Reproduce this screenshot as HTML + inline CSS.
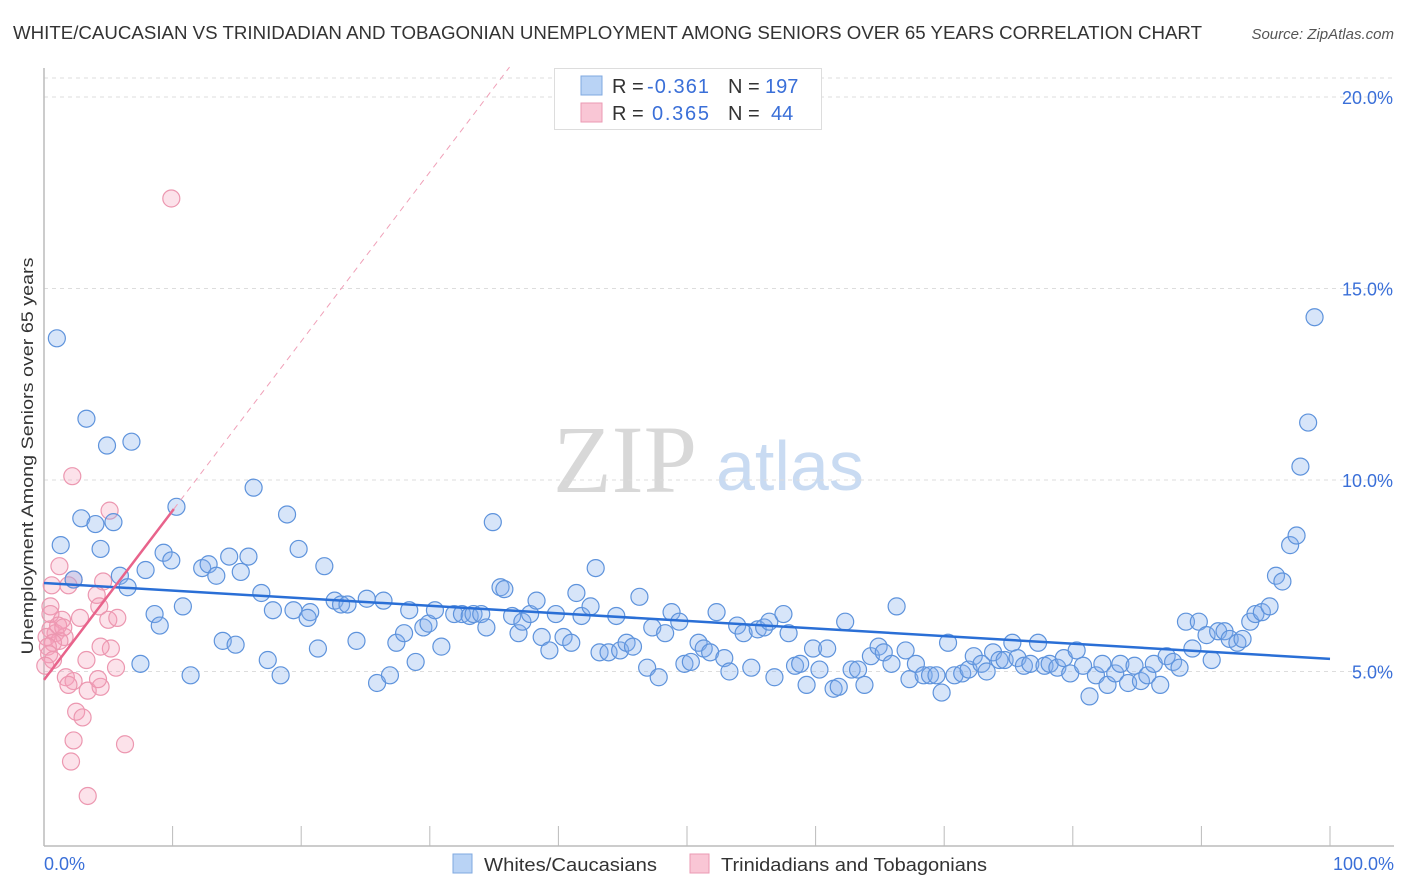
<!DOCTYPE html>
<html><head><meta charset="utf-8"><style>
body{margin:0;background:#fff;width:1406px;height:892px;overflow:hidden;font-family:"Liberation Sans",sans-serif}
svg{position:absolute;left:0;top:0}
</style></head><body>
<svg id="chart" width="1406" height="892">
<text x="13" y="39" font-size="18" fill="#333" textLength="1189" lengthAdjust="spacingAndGlyphs">WHITE/CAUCASIAN VS TRINIDADIAN AND TOBAGONIAN UNEMPLOYMENT AMONG SENIORS OVER 65 YEARS CORRELATION CHART</text>
<text x="1394" y="39" font-size="15" fill="#555" font-style="italic" text-anchor="end">Source: ZipAtlas.com</text>
<g>
<text x="553" y="492" font-family="Liberation Serif, serif" font-size="96" fill="#d8d8d8">ZIP</text>
<text x="716" y="490" font-size="70" fill="#c9dbf2">atlas</text>
</g>
<g id="grid"></g>
<line x1="44" y1="68" x2="44" y2="846" stroke="#bbb" stroke-width="1.5"/>
<line x1="44" y1="846" x2="1394" y2="846" stroke="#bbb" stroke-width="1.5"/>
<g id="xticks"></g>
<g id="ylabels"></g>
<text x="44" y="870" font-size="18" fill="#3a6fd8">0.0%</text>
<text x="1394" y="870" font-size="18" fill="#3a6fd8" text-anchor="end">100.0%</text>
<text transform="translate(33,456) rotate(-90)" font-size="17" fill="#333" text-anchor="middle" textLength="397" lengthAdjust="spacingAndGlyphs">Unemployment Among Seniors over 65 years</text>
<g id="pink"></g>
<g id="blue"></g>
<g id="trends"></g>
<g>
<rect x="554.5" y="68.5" width="267" height="61" fill="#fff" stroke="#ddd"/>
<rect x="581" y="76" width="21" height="19" fill="#b9d3f5" stroke="#7fa8e0"/>
<rect x="581" y="103" width="21" height="19" fill="#f9c6d5" stroke="#eb9ab3"/>
<text y="93" font-size="20"><tspan x="612" fill="#333">R = </tspan><tspan x="647" fill="#3a6fd8" textLength="62">-0.361</tspan><tspan x="728" fill="#333">N = </tspan><tspan x="765" fill="#3a6fd8">197</tspan></text>
<text y="120" font-size="20"><tspan x="612" fill="#333">R = </tspan><tspan x="652" fill="#3a6fd8" textLength="57">0.365</tspan><tspan x="728" fill="#333">N = </tspan><tspan x="771" fill="#3a6fd8">44</tspan></text>
</g>
<g>
<rect x="453" y="854" width="19" height="19" fill="#b9d3f5" stroke="#7fa8e0"/>
<text x="484" y="871" font-size="18" fill="#333" textLength="173" lengthAdjust="spacingAndGlyphs">Whites/Caucasians</text>
<rect x="690" y="854" width="19" height="19" fill="#f9c6d5" stroke="#eb9ab3"/>
<text x="721" y="871" font-size="18" fill="#333" textLength="266" lengthAdjust="spacingAndGlyphs">Trinidadians and Tobagonians</text>
</g>
</svg>
<script>
const yTicks=[5,10,15,20];
const yTickLabels=["5.0%","10.0%","15.0%","20.0%"];
const blueX=[1.0,3.3,4.9,6.8,1.3,2.9,4.0,5.4,4.4,2.3,5.9,6.5,7.5,9.3,9.9,7.9,10.3,8.6,9.0,10.8,11.4,12.3,12.8,13.4,14.4,15.9,15.3,13.9,14.9,16.3,16.9,17.8,18.9,19.8,19.4,20.7,20.5,21.8,17.4,18.4,21.3,22.6,23.1,23.6,24.3,25.1,25.9,26.9,26.4,27.4,28.0,28.4,28.9,29.5,29.9,30.4,30.9,31.9,32.5,33.1,33.4,34.0,34.4,34.9,35.5,35.8,36.4,36.9,37.2,37.8,38.3,38.7,39.3,39.8,40.4,41.0,41.4,41.8,42.5,42.9,43.2,43.9,44.5,44.8,45.3,45.8,46.3,46.9,47.3,47.8,48.3,48.8,49.4,49.8,50.3,50.9,51.3,51.8,52.3,52.9,53.3,53.9,54.4,55.0,55.5,56.0,56.4,56.8,57.5,57.9,58.4,58.8,59.3,59.8,60.3,60.9,61.4,61.8,62.3,62.8,63.3,63.8,64.3,64.9,65.3,65.9,66.3,67.0,67.3,67.8,68.4,68.9,69.4,69.8,70.3,70.8,71.4,71.9,72.3,72.9,73.3,73.8,74.3,74.7,75.3,75.7,76.2,76.7,77.3,77.8,78.2,78.8,79.3,79.8,80.3,80.8,81.3,81.8,82.3,82.7,83.3,83.7,84.3,84.8,85.3,85.8,86.3,86.8,87.3,87.8,88.3,88.8,89.3,89.8,90.4,90.8,91.3,91.8,92.2,92.8,93.2,93.8,94.2,94.7,95.3,95.8,96.3,96.9,97.4,97.7,98.3,98.8];
const blueY=[13.7,11.6,10.9,11.0,8.3,9.0,8.85,8.9,8.2,7.4,7.5,7.2,5.2,8.1,7.9,7.65,9.3,6.5,6.2,6.7,4.9,7.7,7.8,7.5,8.0,8.0,7.6,5.8,5.7,9.8,7.05,6.6,9.1,8.2,6.6,6.55,6.4,7.75,5.3,4.9,5.6,6.85,6.75,6.75,5.8,6.9,4.7,4.9,6.85,5.75,6.0,6.6,5.25,6.15,6.25,6.6,5.65,6.5,6.5,6.45,6.5,6.5,6.15,8.9,7.2,7.15,6.45,6.0,6.3,6.5,6.85,5.9,5.55,6.5,5.9,5.75,7.05,6.45,6.7,7.7,5.5,5.5,6.45,5.55,5.75,5.65,6.95,5.1,6.15,4.85,6.0,6.55,6.3,5.2,5.25,5.75,5.6,5.5,6.55,5.35,5.0,6.2,6.0,5.1,6.1,6.15,6.3,4.85,6.5,6.0,5.15,5.2,4.65,5.6,5.05,5.6,4.55,4.6,6.3,5.05,5.05,4.65,5.4,5.65,5.5,5.2,6.7,5.55,4.8,5.2,4.9,4.9,4.9,4.45,5.75,4.9,4.95,5.05,5.4,5.2,5.0,5.5,5.3,5.3,5.75,5.35,5.15,5.2,5.75,5.15,5.2,5.1,5.35,4.95,5.55,5.15,4.35,4.9,5.2,4.65,4.95,5.2,4.7,5.15,4.75,4.9,5.2,4.65,5.4,5.25,5.1,6.3,5.6,6.3,5.95,5.3,6.05,6.05,5.85,5.75,5.85,6.3,6.5,6.55,6.7,7.5,7.35,8.3,8.55,10.35,11.5,14.25];
const pinkX=[9.9,2.2,5.1,2.3,1.2,0.6,1.9,4.6,4.1,4.3,5.0,5.7,2.8,1.4,0.5,0.9,0.2,1.6,1.2,0.7,0.3,5.2,3.3,5.6,1.7,2.3,1.9,3.4,4.4,4.2,2.5,3.0,2.3,6.3,2.1,3.4,0.4,0.7,0.1,0.5,4.4,0.5,1.1,1.5];
const pinkY=[17.35,10.1,9.2,7.4,7.75,7.25,7.25,7.35,7.0,6.7,6.35,6.4,6.4,6.35,6.1,6.0,5.9,5.9,5.8,5.75,5.65,5.6,5.3,5.1,4.85,4.75,4.65,4.5,4.6,4.8,3.95,3.8,3.2,3.1,2.65,1.75,5.45,5.3,5.15,6.7,5.65,6.5,6.2,6.15];
const blueTrend=[7.31,5.33];
const pinkTrend=[4.78,0.442];
const pinkSolidEnd=10.1, pinkDashEnd=36.2;

const NS="http://www.w3.org/2000/svg";
const sx=v=>44+v*12.86;
const sy=v=>863-v*38.3;
function mk(tag,attrs,parent){const e=document.createElementNS(NS,tag);for(const k in attrs)e.setAttribute(k,attrs[k]);parent.appendChild(e);return e;}
const grid=document.getElementById('grid'),yl=document.getElementById('ylabels');
yTicks.forEach((t,i)=>{
  const l=mk('line',{x1:44,x2:1394,y1:sy(t),y2:sy(t),stroke:'#ddd','stroke-dasharray':'4,4'},grid);
  
  
  const tx=mk('text',{x:1393,y:sy(t)+7,'font-size':18,fill:'#3a6fd8','text-anchor':'end'},yl);
  tx.textContent=yTickLabels[i];
  
  
});
const topG=mk('line',{x1:44,x2:1394,y1:78,y2:78,stroke:'#ddd','stroke-dasharray':'4,4'},grid);


const xt=document.getElementById('xticks');
for(let i=1;i<=10;i++){const l=mk('line',{x1:sx(i*10),x2:sx(i*10),y1:826,y2:846,stroke:'#bbb'},xt);
  
  }
const pg=document.getElementById('pink');
pinkX.forEach((v,i)=>{const c=mk('circle',{cx:sx(v),cy:sy(pinkY[i]),r:8.5,fill:'rgba(244,160,185,0.3)',stroke:'#ec97b0','stroke-width':1.2},pg);
  
  });
const bg=document.getElementById('blue');
blueX.forEach((v,i)=>{const c=mk('circle',{cx:sx(v),cy:sy(blueY[i]),r:8.5,fill:'rgba(130,175,235,0.32)',stroke:'#5e93dc','stroke-width':1.2},bg);
  
  });
const tg=document.getElementById('trends');
const bt=mk('line',{x1:sx(0),y1:sy(blueTrend[0]),x2:sx(100),y2:sy(blueTrend[1]),stroke:'#2a6fd6','stroke-width':2.5},tg);


const pf=x=>pinkTrend[0]+pinkTrend[1]*x;
const ps=mk('line',{x1:sx(0),y1:sy(pf(0)),x2:sx(pinkSolidEnd),y2:sy(pf(pinkSolidEnd)),stroke:'#e8638b','stroke-width':2.5},tg);


const pd=mk('line',{x1:sx(pinkSolidEnd),y1:sy(pf(pinkSolidEnd)),x2:sx(pinkDashEnd),y2:sy(pf(pinkDashEnd)),stroke:'#f0a0b8','stroke-width':1,'stroke-dasharray':'6,5'},tg);


</script>
</body></html>
